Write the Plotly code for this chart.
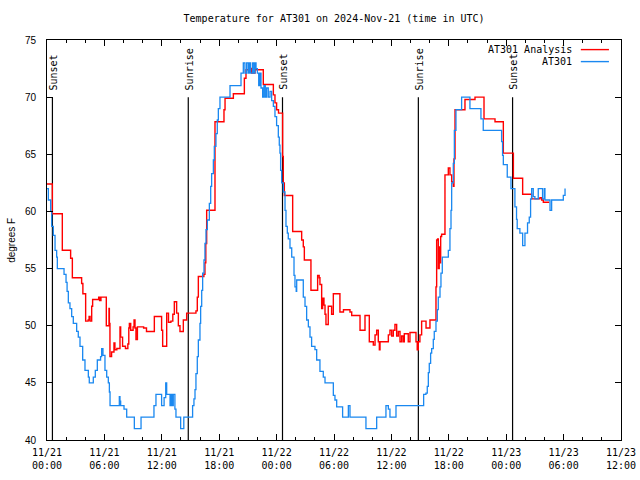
import pandas as pd
import plotly.graph_objects as go

# ---- data (hours after 2024-11-21 00:00 UTC, degrees F) ----
analysis_hours = [0.00,0.56,1.60,2.47,2.65,3.62,3.75,4.04,4.30,4.40,4.50,4.67,4.77,5.40,5.50,5.64,
    6.20,6.48,6.52,6.58,6.75,7.00,7.10,7.30,7.63,7.70,7.90,8.20,8.45,8.55,8.61,8.75,9.00,9.10,9.20,
    9.30,9.45,10.10,10.40,11.22,11.98,12.09,12.51,12.70,12.95,13.15,13.31,13.55,13.73,13.90,14.25,
    14.60,15.57,15.71,15.82,16.40,16.51,16.60,16.69,17.56,18.50,18.61,19.48,20.63,20.80,21.22,21.39,
    21.74,22.61,23.66,23.83,24.00,24.20,24.63,24.70,24.81,25.68,26.62,26.79,26.90,27.59,28.29,28.45,
    28.53,28.71,28.81,28.95,29.06,29.16,29.40,29.75,29.93,30.62,30.99,31.67,31.85,32.72,33.24,33.69,
    34.11,34.29,34.46,34.63,34.74,34.81,35.68,35.85,36.03,36.20,36.37,36.55,36.72,36.90,37.07,37.24,
    37.35,37.76,37.94,38.57,38.70,38.81,38.98,39.16,39.62,40.03,40.66,40.73,40.83,40.90,41.00,41.08,
    41.15,41.25,41.60,41.95,42.12,42.30,42.47,42.54,42.65,43.69,44.74,45.68,46.83,47.70,48.75,49.72,
    50.66,51.53,51.71,51.88,52.50]
analysis_temp = [62.4,59.8,56.6,55.9,54.2,53.7,52.8,50.4,50.5,50.8,50.4,51.7,52.3,52.5,52.2,52.5,
    50.0,51.5,50.2,47.3,47.7,48.5,47.9,48.0,49.9,49.0,48.2,48.0,48.4,49.8,50.2,49.6,49.9,50.5,49.8,
    48.8,49.9,49.8,49.5,50.8,49.6,48.2,51.1,50.3,50.4,51.0,52.1,51.1,50.0,49.5,50.5,
    51.1,51.3,52.5,54.3,54.5,55.5,57.2,60.1,67.85,68.9,69.9,70.3,71.65,72.4,72.5,72.1,
    72.4,71.1,70.2,69.5,68.9,68.6,64.8,62.5,61.4,58.25,57.5,56.9,55.75,53.1,54.4,54.2,
    53.6,51.5,52.4,51.8,51.0,50.1,51.7,51.0,52.8,51.2,51.4,51.2,50.9,49.6,50.9,48.6,
    48.3,49.2,49.6,48.6,47.9,48.6,49.2,49.6,49.1,49.6,50.1,49.1,49.5,48.6,49.1,48.6,
    49.3,48.6,49.4,48.6,47.9,48.6,49.2,50.4,49.8,50.5,53.4,57.5,57.6,55.0,56.9,55.5,
    57.8,58.0,63.2,63.8,63.2,62.6,62.2,64.6,68.9,69.8,70.0,68.1,67.85,65.1,62.9,61.5,
    61.1,61.2,61.0,60.8,60.8]

obs_hours = [0.00,0.14,0.38,0.49,0.66,0.84,1.01,1.08,1.78,1.99,2.10,2.23,2.40,2.58,2.75,3.10,3.27,
    3.45,3.73,3.97,4.32,4.42,4.84,5.05,5.26,5.60,5.71,5.85,6.06,6.24,6.41,6.52,6.59,7.56,7.63,7.70,
    8.05,8.33,9.13,9.83,11.18,11.39,11.98,12.24,12.41,12.51,12.86,12.97,13.10,13.20,13.37,13.48,
    13.97,14.30,15.22,15.36,15.47,15.57,15.71,15.82,15.99,16.06,16.17,16.27,16.41,16.51,16.62,16.76,
    16.97,17.11,17.21,17.39,17.49,17.66,17.80,17.91,18.08,19.13,20.28,20.52,20.69,20.87,21.04,21.15,
    21.29,21.50,21.64,21.74,21.85,21.99,22.13,22.26,22.37,22.54,22.68,22.82,22.96,23.13,23.31,23.48,
    23.66,23.83,24.00,24.18,24.28,24.35,24.42,24.53,24.70,24.88,24.98,25.12,25.22,25.40,25.58,25.82,
    25.92,26.05,26.10,26.79,26.97,27.14,27.32,27.49,27.66,28.01,28.19,28.53,28.88,29.06,29.93,30.10,
    30.28,30.90,31.50,31.67,33.34,34.46,35.43,35.68,35.85,36.48,39.37,39.61,39.75,39.86,39.96,40.10,
    40.21,40.38,40.48,40.66,40.80,40.90,41.08,41.18,41.32,41.95,42.12,42.23,42.30,42.47,42.58,42.75,
    43.34,44.21,45.36,45.60,47.52,47.62,47.70,48.11,48.50,48.91,49.08,49.15,49.43,49.72,49.96,50.23,
    50.41,50.55,50.66,50.83,51.00,51.35,51.80,51.98,52.05,52.58,52.75,53.97,54.15]
obs_temp = [62.0,61.0,60.0,58.7,57.9,56.6,56.0,55.0,54.5,53.8,53.0,52.0,51.5,50.8,50.2,49.5,49.0,
    48.2,47.0,46.1,45.5,45.0,45.5,46.1,47.0,47.3,48.0,47.4,46.1,45.5,45.0,44.2,43.0,43.8,43.4,43.0,
    42.7,42.0,41.0,42.0,43.0,44.0,43.0,43.7,45.0,44.0,43.0,44.0,43.0,44.0,42.7,42.0,
    41.0,42.0,43.0,43.6,44.4,45.8,47.3,48.75,50.2,51.7,53.1,54.6,55.75,57.2,58.4,59.25,
    60.7,62.2,63.3,64.5,65.7,66.8,68.0,69.0,70.0,71.0,72.1,73.0,72.1,73.0,72.1,73.0,
    72.1,73.0,72.1,73.0,72.5,72.1,71.0,72.1,70.8,70.0,71.0,70.0,70.8,70.0,70.5,69.7,
    69.2,68.3,67.5,66.5,65.8,65.1,63.6,62.5,61.7,60.1,58.7,58.1,57.6,56.8,56.0,54.4,
    53.4,53.0,54.0,52.5,51.7,50.5,49.9,49.0,48.2,47.9,47.0,46.0,45.5,45.0,43.9,43.5,
    42.9,42.0,43.0,42.0,41.0,42.0,43.0,42.7,42.0,43.0,44.0,44.1,44.7,45.9,46.7,47.6,
    48.0,48.8,49.5,50.4,51.4,52.5,53.4,54.6,56.0,56.6,58.5,60.1,62.5,64.2,67.1,68.9,
    70.0,69.0,68.1,67.1,66.1,64.9,64.1,63.0,62.0,60.4,59.3,58.5,58.1,57.0,58.1,59.0,
    59.5,61.1,62.0,61.3,61.1,62.0,61.1,62.0,61.0,60.1,61.0,61.4,62.0]

sun_events = ["Sunset", "Sunrise", "Sunset", "Sunrise", "Sunset"]
sun_times = ["2024-11-21 00:34", "2024-11-21 14:46", "2024-11-22 00:37",
             "2024-11-22 14:49", "2024-11-23 00:40"]
sun_line_bottom = 40
sun_line_top = 70

tick_times = ["2024-11-21 00:00", "2024-11-21 06:00", "2024-11-21 12:00", "2024-11-21 18:00",
              "2024-11-22 00:00", "2024-11-22 06:00", "2024-11-22 12:00", "2024-11-22 18:00",
              "2024-11-23 00:00", "2024-11-23 06:00", "2024-11-23 12:00"]
tick_labels = ["11/21<br>00:00", "11/21<br>06:00", "11/21<br>12:00", "11/21<br>18:00",
               "11/22<br>00:00", "11/22<br>06:00", "11/22<br>12:00", "11/22<br>18:00",
               "11/23<br>00:00", "11/23<br>06:00", "11/23<br>12:00"]

base = pd.Timestamp("2024-11-21 00:00")
t_an = base + pd.to_timedelta(analysis_hours, unit="h")
t_ob = base + pd.to_timedelta(obs_hours, unit="h")

MONO = "DejaVu Sans Mono"
RED = "#ff0000"
BLUE = "#1a88f0"

fig = go.Figure()

# sunrise / sunset vertical lines
sx, sy = [], []
for t in sun_times:
    sx += [t, t, None]
    sy += [sun_line_bottom, sun_line_top, None]
fig.add_trace(go.Scatter(x=sx, y=sy, mode="lines", line=dict(color="black", width=1.2),
                         showlegend=False, hoverinfo="skip"))

fig.add_trace(go.Scatter(x=t_an, y=analysis_temp, mode="lines", name="AT301 Analysis",
                         line=dict(color=RED, width=1.4, shape="hv"), showlegend=False))
fig.add_trace(go.Scatter(x=t_ob, y=obs_temp, mode="lines", name="AT301",
                         line=dict(color=BLUE, width=1.3, shape="hv"), showlegend=False))

for name, t in zip(sun_events, sun_times):
    fig.add_annotation(x=t, y=sun_line_top, text=name, textangle=-90, showarrow=False,
                       xanchor="center", yanchor="bottom", yshift=5, xshift=1,
                       font=dict(family=MONO, size=10, color="black"))

# legend (gnuplot style: text then sample line)
leg = [("AT301 Analysis", RED, 0.976), ("AT301", BLUE, 0.946)]
for txt, col, yy in leg:
    fig.add_annotation(x=0.918, y=yy, xref="paper", yref="paper", text=txt, showarrow=False,
                       xanchor="right", yanchor="middle", font=dict(family=MONO, size=10, color="black"))
    fig.add_shape(type="line", xref="paper", yref="paper", x0=0.930, x1=0.979, y0=yy, y1=yy,
                  line=dict(color=col, width=1.4))

fig.add_annotation(x=-0.063, y=0.5, xref="paper", yref="paper", text="degrees F", textangle=-90,
                   showarrow=False, xanchor="center", yanchor="middle",
                   font=dict(family="Liberation Sans", size=10, color="black"))

fig.update_layout(
    width=640, height=480,
    margin=dict(l=47, r=19, t=40, b=40, autoexpand=False),
    paper_bgcolor="white", plot_bgcolor="white",
    title=dict(text="Temperature for AT301 on 2024-Nov-21 (time in UTC)", x=0.522, xanchor="center",
               y=1 - 18.5 / 480, yanchor="middle", font=dict(family=MONO, size=10, color="black")),
    showlegend=False,
)
fig.update_xaxes(
    type="date", range=["2024-11-21 00:00", "2024-11-23 12:00"], automargin=False,
    tickvals=tick_times, ticktext=tick_labels,
    ticks="inside", ticklen=6, tickcolor="black", tickwidth=1,
    minor=dict(dtick=2 * 3600 * 1000, tick0="2024-11-21", ticks="inside", ticklen=3,
               tickcolor="black", showgrid=False),
    showline=True, linecolor="black", linewidth=1, mirror="allticks",
    showgrid=False, zeroline=False, ticklabelstandoff=3,
    tickfont=dict(family=MONO, size=10, color="black"),
)
fig.update_yaxes(
    range=[40, 75], dtick=5, tick0=40, automargin=False,
    ticks="inside", ticklen=6, tickcolor="black", tickwidth=1,
    showline=True, linecolor="black", linewidth=1, mirror="allticks",
    showgrid=False, zeroline=False, ticklabelstandoff=8,
    tickfont=dict(family="Liberation Sans", size=10, color="black"),
)

fig.write_html("out.html", config={"displayModeBar": False},
               post_script="document.body.style.margin='0';")
